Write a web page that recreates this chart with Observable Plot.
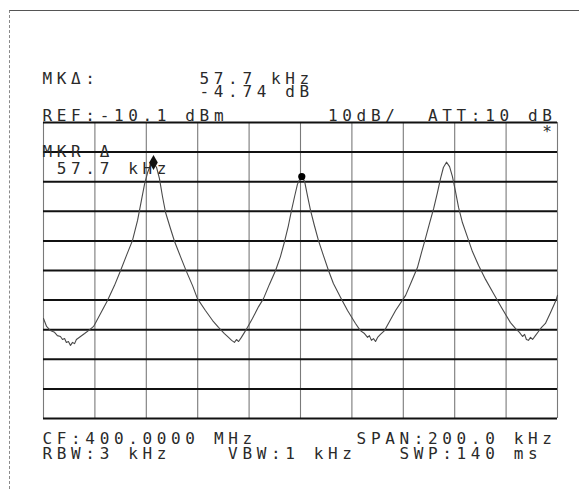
<!DOCTYPE html>
<html>
<head>
<meta charset="utf-8">
<script src="https://cdn.jsdelivr.net/npm/d3@7"></script>
<script src="https://cdn.jsdelivr.net/npm/@observablehq/plot@0.6"></script>
<style>
  html, body { margin: 0; padding: 0; background: #fff; }
  #page { position: relative; width: 579px; height: 489px; background: #fff; overflow: hidden; }
  #chart { position: absolute; left: 0; top: 0; }
  #sheet { position: absolute; left: 9px; top: 10px; right: 0; bottom: 0;
           border-left: 1px dashed #8a8a8a; border-top: 1px solid #555; pointer-events: none; }
</style>
</head>
<body>
<div id="page">
  <div id="chart"></div>
  <div id="sheet"></div>
</div>
<script>
// Spectrum analyzer trace: offset from centre frequency (kHz) and level (dBm)
const freqKHz = [
  -100.0, -98.8, -97.3, -95.7, -94.6, -93.4, -92.6, -91.8, -91.1, -90.3,
  -89.5, -88.7, -87.9, -87.2, -85.6, -84.0, -82.5, -80.5, -77.8, -75.1,
  -72.4, -70.0, -67.7, -65.4, -63.4, -61.9, -60.7, -59.5, -58.4, -57.2,
  -56.0, -54.9, -53.7, -52.5, -50.6, -49.0, -46.7, -44.4, -42.0, -40.1,
  -37.0, -34.2, -31.9, -29.6, -28.0, -26.8, -25.7, -24.9, -24.1, -23.0,
  -21.8, -20.6, -18.7, -16.3, -14.4, -12.1, -9.7, -7.8, -6.2, -4.7,
  -3.5, -2.3, -1.2, -0.4, 0.5, 1.6, 2.7, 3.9, 5.4, 7.0,
  8.9, 10.9, 12.8, 15.6, 18.3, 21.4, 23.3, 24.9, 26.1, 26.8,
  27.6, 28.4, 29.2, 30.0, 31.1, 32.7, 34.2, 37.0, 40.9, 43.2,
  45.5, 47.1, 48.6, 50.2, 51.8, 53.3, 54.5, 55.6, 56.8, 58.0,
  59.1, 60.3, 61.5, 63.0, 65.0, 66.9, 69.3, 72.0, 75.1, 78.2,
  81.7, 83.7, 85.2, 86.4, 87.2, 87.9, 88.7, 89.5, 90.3, 91.4,
  92.6, 93.8, 95.3, 97.3, 99.2, 100.0
];
const levelDBm = [
  -76.3, -79.0, -80.4, -81.0, -82.1, -82.4, -83.4, -83.1, -84.4, -84.1,
  -85.4, -84.4, -84.8, -83.4, -82.4, -81.4, -80.4, -79.0, -74.6, -70.2,
  -65.2, -60.1, -55.0, -50.0, -43.2, -36.4, -31.0, -27.0, -24.6, -23.6,
  -25.3, -29.0, -35.1, -40.5, -45.9, -50.3, -55.4, -60.4, -65.2, -69.6,
  -73.6, -77.0, -79.3, -81.4, -82.7, -83.7, -84.4, -83.4, -84.1, -82.7,
  -81.0, -79.3, -76.3, -72.3, -69.6, -64.8, -60.1, -55.4, -50.3, -44.9,
  -39.8, -35.1, -31.0, -29.4, -28.3, -30.0, -34.8, -39.8, -44.9, -50.0,
  -55.0, -60.1, -64.5, -69.2, -73.6, -78.0, -80.4, -81.4, -82.7, -82.1,
  -83.7, -83.1, -84.1, -82.7, -81.7, -80.4, -78.0, -73.6, -68.5, -63.8,
  -59.1, -54.0, -49.3, -44.2, -39.2, -33.7, -29.0, -25.3, -23.5, -25.0,
  -28.3, -33.4, -38.8, -43.9, -48.9, -53.7, -58.4, -63.1, -67.9, -72.6,
  -77.7, -79.7, -81.0, -82.4, -81.7, -83.4, -83.7, -82.7, -83.4, -82.1,
  -80.7, -79.3, -78.0, -74.3, -70.6, -68.5
];

// Graticule: 10 divisions of 20 kHz (span 200 kHz) and 10 dB/div from REF -10.1 dBm
const gridKHz = [-100, -80, -60, -40, -20, 0, 20, 40, 60, 80, 100];
const gridDBm = [-10.1, -20.1, -30.1, -40.1, -50.1, -60.1, -70.1, -80.1, -90.1, -100.1, -110.1];

// Markers: reference marker on the first peak, delta marker 57.7 kHz / -4.74 dB away
const refMarker = {f: -57.2, l: -23.6};
const deltaMarker = {f: refMarker.f + 57.7, l: refMarker.l - 4.74};

// Annotation text: string, character column, baseline (px)
const labelText = [
  "MKΔ:", "57.7 kHz", "-4.74 dB",
  "REF:-10.1 dBm", "10dB/", "ATT:10 dB", "*",
  "MKR Δ", "57.7 kHz",
  "CF:400.0000 MHz", "SPAN:200.0 kHz",
  "RBW:3 kHz", "VBW:1 kHz", "SWP:140 ms"
];
const labelCol = [0, 11, 11, 0, 20, 27, 35, 0, 1, 0, 22, 0, 13, 25];
const labelBase = [83, 83, 96, 120, 120, 120, 136, 156, 173, 443, 443, 458, 458, 458];

const W = 579, H = 489;
const mL = 43, mR = 22, mT = 122, mB = 71;
const pitch = (W - mL - mR) / 36;   // monospaced character cell
const textX0 = 42;

const trace = freqKHz.map((f, i) => ({f, l: levelDBm[i]}));
const labels = labelText.map((t, i) => ({
  t,
  dx: textX0 + labelCol[i] * pitch - mL,
  dy: labelBase[i] - mT
}));

const textMarks = labels.map(d => Plot.text([d.t], {
  frameAnchor: "top-left",
  text: x => x,
  dx: d.dx,
  dy: d.dy,
  textAnchor: "start",
  lineAnchor: "bottom",
  fontFamily: "DejaVu Sans Mono",
  fontSize: 16,
  fill: "#2a2a2a"
}));

const chart = Plot.plot({
  width: W,
  height: H,
  marginLeft: mL,
  marginRight: mR,
  marginTop: mT,
  marginBottom: mB,
  style: {background: "transparent", letterSpacing: (pitch - 0.602 * 16).toFixed(2) + "px", overflow: "visible"},
  x: {domain: [-100, 100], axis: null},
  y: {domain: [-110.1, -10.1], axis: null},
  marks: [
    Plot.ruleX(gridKHz, {stroke: "#7a7a7a", strokeWidth: 1.1}),
    Plot.ruleY(gridDBm, {stroke: "#111", strokeWidth: 2}),
    Plot.line(trace, {x: "f", y: "l", stroke: "#4a4a4a", strokeWidth: 1.1, curve: "linear"}),
    ...textMarks,
    Plot.dot([refMarker], {x: "f", y: "l", symbol: "diamond", r: 4.5, fill: "#111"}),
    Plot.dot([deltaMarker], {x: "f", y: "l", r: 3.6, fill: "#000"})
  ]
});

document.getElementById("chart").appendChild(chart);
</script>
</body>
</html>
